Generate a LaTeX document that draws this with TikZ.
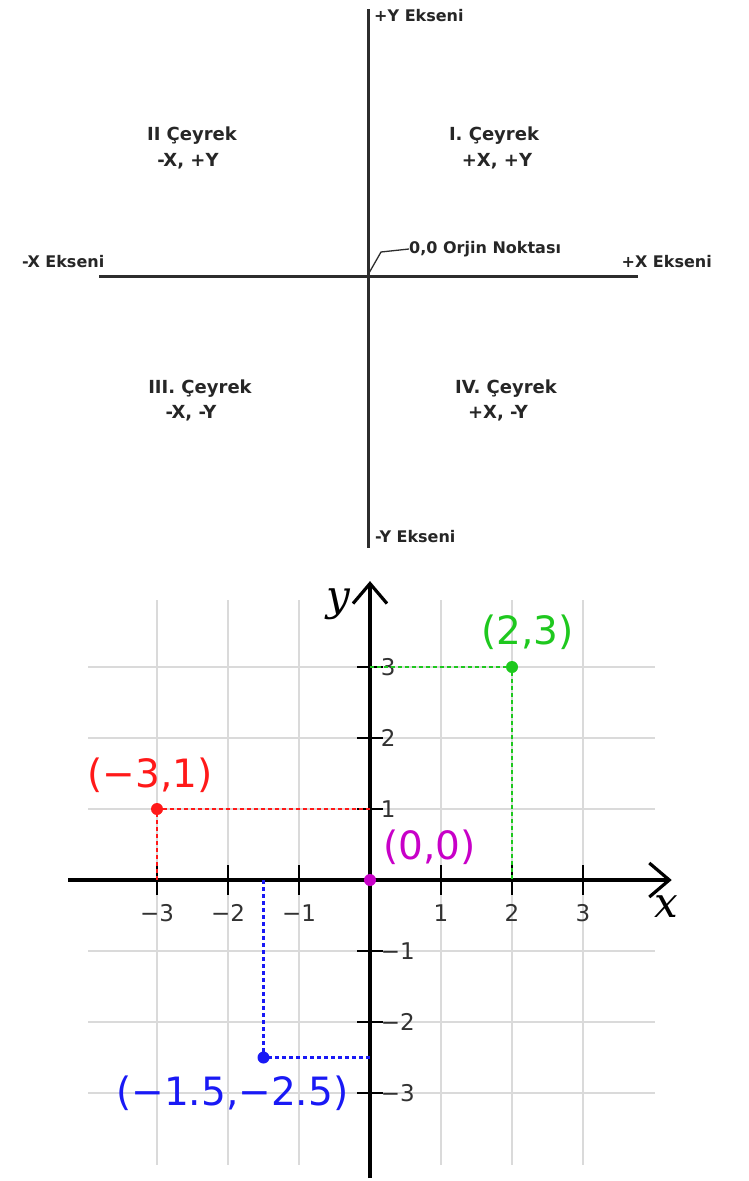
\documentclass[tikz,border=0pt]{standalone}
\usepackage{fontspec}
\setmainfont{DejaVu Sans}
\newfontfamily\serifit{DejaVu Serif}
\usetikzlibrary{arrows.meta}
\definecolor{axisgray}{RGB}{45,45,45}
\definecolor{gridgray}{RGB}{218,218,218}
\definecolor{ptgreen}{RGB}{30,200,30}
\definecolor{ptred}{RGB}{255,25,25}
\definecolor{ptmag}{RGB}{200,0,200}
\definecolor{ptblue}{RGB}{25,25,245}
\definecolor{ticklab}{RGB}{50,50,50}
\tikzset{
  toplab/.style={font=\fontsize{18}{21}\selectfont\bfseries, text=black!85, inner sep=0pt},
  axlab/.style={font=\fontsize{16}{19}\selectfont\bfseries, text=black!85, inner sep=0pt},
  topaxis/.style={draw=axisgray, line width=3pt},
  leader/.style={draw=axisgray, line width=1.3pt},
  gridline/.style={draw=gridgray, line width=1.6pt},
  mainaxis/.style={draw=black, line width=3.2pt},
  tickmark/.style={draw=black, line width=2.6pt},
  ticktext/.style={font=\fontsize{23}{26}\selectfont, text=ticklab, inner sep=0pt},
  dotline/.style={line width=2.4pt, dash pattern=on 4pt off 3pt},
  dot/.style={circle, inner sep=0pt, minimum size=12pt},
  ptlab/.style={font=\fontsize{39}{44}\selectfont, inner sep=0pt},
  axname/.style={font=\serifit\itshape\fontsize{42}{46}\selectfont, inner sep=0pt}
}
\begin{document}
\begin{tikzpicture}[x=1pt, y=-1pt]
\useasboundingbox[fill=white] (0,0) rectangle (749,1181);

% ---------- top diagram ----------
\coordinate (vt) at (368,9);
\coordinate (vb) at (368,548);
\coordinate (hl) at (99,276);
\coordinate (hr) at (638,276);
\draw[topaxis] (vt) -- (vb);
\draw[topaxis] (hl) -- (hr);

\node[axlab, anchor=west] (py) at (374,16) {+Y Ekseni};
\node[axlab, anchor=west] (my) at (375,537) {-Y Ekseni};
\node[axlab, anchor=west] (mx) at (22,262) {-X Ekseni};
\node[axlab, anchor=east] (px) at (712,262) {+X Ekseni};

\node[toplab] (q2a) at (192,136) {II Çeyrek};
\node[toplab] (q2b) at (188,161) {-X, +Y};
\node[toplab] (q1a) at (494,136) {I. Çeyrek};
\node[toplab] (q1b) at (497,161) {+X, +Y};
\node[toplab] (q3a) at (200,389) {III. Çeyrek};
\node[toplab] (q3b) at (191,413) {-X, -Y};
\node[toplab] (q4a) at (506,389) {IV. Çeyrek};
\node[toplab] (q4b) at (498,413) {+X, -Y};

\node[axlab, anchor=west] (orj) at (409,249) {0,0 Orjin Noktası};
\coordinate (o) at (369,273);
\coordinate (bend) at (381,252);
\draw[leader] (o) -- (bend) -- (orj.west);

% ---------- bottom diagram ----------
\begin{scope}[shift={(370,880)}, x=71pt, y=71pt]
  \foreach \i in {-3,...,3}
    \draw[gridline] (\i,-4.01) -- (\i,3.94);
  \foreach \j in {-3,...,3}
    \draw[gridline] (-3.97,\j) -- (4.01,\j);

  \coordinate (xl) at (-4.25,0);
  \coordinate (xr) at (4.25,0);
  \coordinate (yb) at (0,-4.2);
  \coordinate (yt) at (0,4.21);
  \draw[mainaxis, -{Straight Barb[length=20pt,width=34pt]}] (xl) -- (xr);
  \draw[mainaxis, -{Straight Barb[length=20pt,width=34pt]}] (yb) -- (yt);

  \foreach \i/\t in {-3/−3,-2/−2,-1/−1,1/1,2/2,3/3} {
    \draw[tickmark] (\i,-0.21) -- (\i,0.21);
    \node[ticktext] (xt\i) at (\i,-0.46) {\t};
  }
  \foreach \j/\t in {-3/−3,-2/−2,-1/−1,1/1,2/2,3/3} {
    \draw[tickmark] (-0.18,\j) -- (0.18,\j);
    \node[ticktext, anchor=west] (yt\j) at (0.15,\j) {\t};
  }

  \node[axname] (xname) at (4.17,-0.37) {x};
  \node[axname] (yname) at (-0.45,3.88) {y};

  % points
  \coordinate (a3) at (0,3);
  \coordinate (a2x) at (2,0);
  \coordinate (a1) at (0,1);
  \coordinate (am3) at (-3,0);
  \coordinate (am15) at (-1.5,0);
  \coordinate (am25) at (0,-2.5);

  \node[dot, fill=ptmag] (p00) at (0,0) {};
  \coordinate (p23) at (2,3);
  \coordinate (pm31) at (-3,1);
  \coordinate (pb) at (-1.5,-2.5);

  \draw[dotline, ptgreen] (a3) -- (p23) -- (a2x);
  \draw[dotline, ptred] (a1) -- (pm31) -- (am3);
  \draw[dotline, ptblue] (am15) -- (pb) -- (am25);

  \node[dot, fill=ptgreen] (d23) at (p23) {};
  \node[dot, fill=ptred] (dm31) at (pm31) {};
  \node[dot, fill=ptblue] (db) at (pb) {};

  \node[ptlab, text=ptgreen] (l23) at (2.22,3.49) {(2,3)};
  \node[ptlab, text=ptred] (lm31) at (-3.10,1.48) {(−3,1)};
  \node[ptlab, text=ptmag] (l00) at (0.84,0.46) {(0,0)};
  \node[ptlab, text=ptblue] (lb) at (-1.94,-3.0) {(−1.5,−2.5)};
\end{scope}
\end{tikzpicture}
\end{document}
